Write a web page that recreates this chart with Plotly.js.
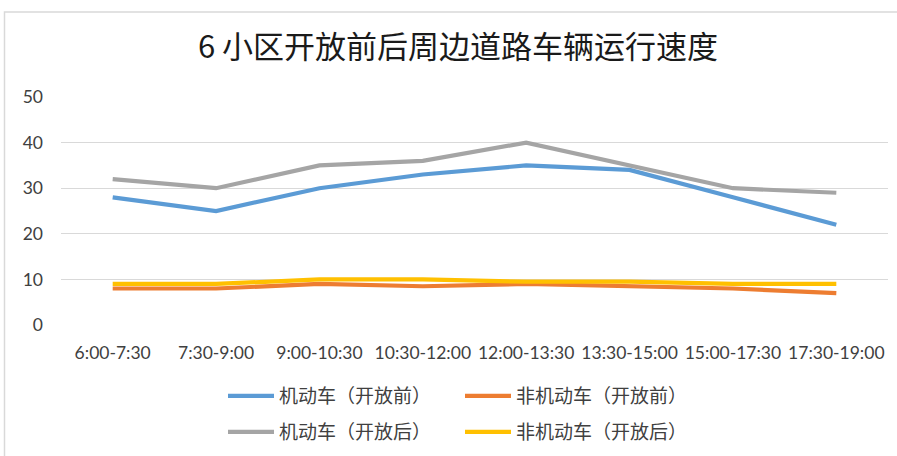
<!DOCTYPE html>
<html>
<head>
<meta charset="utf-8">
<script src="https://cdn.plot.ly/plotly-3.0.1.min.js"></script>
<style>
  html, body { margin: 0; padding: 0; background: #fff; }
  #chart { width: 897px; height: 456px; }
</style>
</head>
<body>
<div id="chart"></div>
<script>
// Time periods on the x axis
const periods = ['6:00-7:30', '7:30-9:00', '9:00-10:30', '10:30-12:00',
                 '12:00-13:30', '13:30-15:00', '15:00-17:30', '17:30-19:00'];

// Average speeds per period (km/h)
const motorBefore    = [28, 25, 30, 33, 35, 34, 28, 22];
const nonMotorBefore = [8, 8, 9, 8.5, 9, 8.5, 8, 7];
const motorAfter     = [32, 30, 35, 36, 40, 35, 30, 29];
const nonMotorAfter  = [9, 9, 10, 10, 9.5, 9.5, 9, 9];

const seriesNames = ['机动车（开放前）', '非机动车（开放前）', '机动车（开放后）', '非机动车（开放后）'];
const chartTitle = '6 小区开放前后周边道路车辆运行速度';

const colors = ['#5B9BD5', '#ED7D31', '#A5A5A5', '#FFC000'];
const values = [motorBefore, nonMotorBefore, motorAfter, nonMotorAfter];
// first two series in the upper legend row, last two in the lower row
const legendRows = ['legend', 'legend', 'legend2', 'legend2'];

const traces = values.map((v, i) => ({
  x: periods,
  y: v,
  name: seriesNames[i],
  type: 'scatter',
  mode: 'lines',
  line: { color: colors[i], width: 4.2 },
  legend: legendRows[i],
  hoverinfo: 'skip'
}));

const tickFont = { family: 'Lato, "Liberation Sans", sans-serif', size: 17.5, color: '#404040' };
const legendFont = { family: '"Noto Sans CJK SC", sans-serif', size: 19, color: '#404040' };

function legendRow(yPos) {
  return {
    orientation: 'h',
    xref: 'container', yref: 'container',
    x: 223 / 897, xanchor: 'left',
    y: yPos, yanchor: 'middle',
    entrywidth: 176,
    itemwidth: 46,
    font: legendFont,
    bgcolor: 'rgba(0,0,0,0)'
  };
}

const layout = {
  width: 897,
  height: 456,
  paper_bgcolor: '#ffffff',
  plot_bgcolor: '#ffffff',
  margin: { l: 61, r: 9, t: 97, b: 131 },
  showlegend: true,
  hovermode: false,
  title: {
    text: chartTitle,
    font: { family: '"Noto Sans CJK SC", sans-serif', size: 31, color: '#1a1a1a' },
    xref: 'container', x: 0.5106, xanchor: 'center',
    yref: 'container', y: 0.897, yanchor: 'middle'
  },
  xaxis: {
    type: 'category',
    range: [-0.5, periods.length - 0.5],
    showgrid: false,
    showline: false,
    zeroline: false,
    ticks: '',
    tickfont: tickFont,
    ticklabelstandoff: 15,
    fixedrange: true
  },
  yaxis: {
    range: [0, 50],
    dtick: 10,
    showgrid: true,
    gridcolor: '#d9d9d9',
    gridwidth: 1,
    zeroline: false,
    showline: false,
    ticks: '',
    tickfont: tickFont,
    ticklabelstandoff: 17,
    fixedrange: true
  },
  legend: legendRow(1 - 396 / 456),
  legend2: legendRow(1 - 432 / 456),
  shapes: [{
    type: 'rect', xref: 'paper', yref: 'paper',
    x0: (4.5 - 61) / 827, x1: 1.2,
    y0: -1, y1: (325 - 12) / 228,
    line: { color: '#d9d9d9', width: 1.5 },
    fillcolor: 'rgba(0,0,0,0)',
    layer: 'below'
  }]
};

Plotly.newPlot('chart', traces, layout, { displayModeBar: false, staticPlot: true });
</script>
</body>
</html>
